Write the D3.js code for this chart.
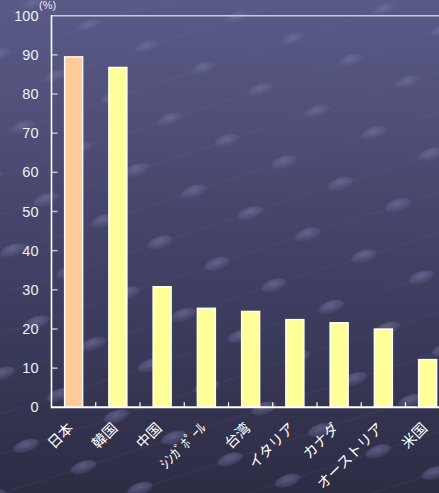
<!DOCTYPE html>
<html><head><meta charset="utf-8">
<script src="https://cdn.jsdelivr.net/npm/d3@7"></script>
<style>html,body{margin:0;padding:0;background:#3c3c5c;}svg{display:block;}</style>
</head><body>
<script>
const categories = ["日本","韓国","中国","ｼﾝｶﾞﾎﾟｰﾙ","台湾","イタリア","カナダ","オーストリア","米国"];
const values = [89.5, 86.8, 30.8, 25.3, 24.5, 22.4, 21.6, 20.0, 12.2];
const barColors = ["#ffcc99","#ffff99","#ffff99","#ffff99","#ffff99","#ffff99","#ffff99","#ffff99","#ffff99"];
const yTicks = [0,10,20,30,40,50,60,70,80,90,100];
const unitLabel = "(%)";

const W = 439, H = 493;
const svg = d3.select("body").append("svg").attr("width", W).attr("height", H);
const defs = svg.append("defs");
const bg = defs.append("linearGradient").attr("id","bg").attr("x1",0).attr("y1",0).attr("x2",0).attr("y2",1);
bg.append("stop").attr("offset","0%").attr("stop-color","#5a5a88");
bg.append("stop").attr("offset","55%").attr("stop-color","#404064");
bg.append("stop").attr("offset","100%").attr("stop-color","#2c2c44");
const eg = defs.append("radialGradient").attr("id","eg").attr("cx","50%").attr("cy","35%").attr("r","60%");
eg.append("stop").attr("offset","0%").attr("stop-color","#7a7aa8").attr("stop-opacity",0.6);
eg.append("stop").attr("offset","100%").attr("stop-color","#55557f").attr("stop-opacity",0.4);
const pat = defs.append("pattern").attr("id","dots").attr("patternUnits","userSpaceOnUse")
  .attr("width",95).attr("height",76).attr("patternTransform","rotate(-18) translate(10,0)");
pat.append("ellipse").attr("cx",20).attr("cy",14).attr("rx",13).attr("ry",6).attr("fill","url(#eg)");
pat.append("ellipse").attr("cx",67).attr("cy",52).attr("rx",13).attr("ry",6).attr("fill","url(#eg)");
pat.append("line").attr("x1",0).attr("y1",14).attr("x2",95).attr("y2",14).attr("stroke","#8080b0").attr("stroke-opacity",0.12);
pat.append("line").attr("x1",0).attr("y1",52).attr("x2",95).attr("y2",52).attr("stroke","#8080b0").attr("stroke-opacity",0.12);

svg.append("rect").attr("width",W).attr("height",H).attr("fill","url(#bg)");
svg.append("rect").attr("width",W).attr("height",H).attr("fill","url(#dots)");

const x0 = 51.5, yTop = 15.7, yBot = 407.3, step = 44.25;
const x = d3.scaleBand().domain(categories).range([x0, x0 + step*categories.length]).paddingInner(0.59).paddingOuter(0.295);
const y = d3.scaleLinear().domain([0,100]).range([yBot, yTop]);

// top border line
svg.append("line").attr("x1",x0).attr("x2",W).attr("y1",y(100)).attr("y2",y(100))
  .attr("stroke","#c8c8d8").attr("stroke-width",1.5);

// bars
svg.selectAll("rect.bar").data(categories).join("rect").attr("class","bar")
  .attr("x", d => x(d)).attr("width", x.bandwidth())
  .attr("y", (d,i) => y(values[i])).attr("height", (d,i) => yBot - y(values[i]))
  .attr("fill", (d,i) => barColors[i]).attr("stroke","#ffffff").attr("stroke-width",1.3);

// y axis
const yAxis = svg.append("g").attr("transform",`translate(${x0},0)`)
  .call(d3.axisLeft(y).tickValues(yTicks).tickSize(0).tickPadding(13));
yAxis.select(".domain").remove();
yAxis.selectAll("text").attr("fill","#f0f0f0").style("font-family","'Liberation Sans', Arial, sans-serif").style("font-size","14.5px");
svg.selectAll("line.ytick").data(yTicks.slice(1,-1)).join("line").attr("class","ytick")
  .attr("x1",x0).attr("x2",x0+6).attr("y1",d=>y(d)).attr("y2",d=>y(d))
  .attr("stroke","#c0c0d0").attr("stroke-width",1.5);

// x ticks at band boundaries (inward)
const bounds = categories.slice(1).map(c => x(c) - x.step()*x.paddingInner()/2 );
svg.selectAll("line.xtick").data(bounds).join("line").attr("class","xtick")
  .attr("x1",d=>d).attr("x2",d=>d).attr("y1",yBot).attr("y2",yBot-5)
  .attr("stroke","#ffffff").attr("stroke-width",1.2);

// axes lines
svg.append("line").attr("x1",x0).attr("x2",x0).attr("y1",y(100)-0.7).attr("y2",yBot+1).attr("stroke","#ffffff").attr("stroke-width",1.6);
svg.append("line").attr("x1",x0).attr("x2",W).attr("y1",yBot).attr("y2",yBot).attr("stroke","#ffffff").attr("stroke-width",2);

// x labels
svg.selectAll("text.xl").data(categories).join("text").attr("class","xl")
  .attr("transform", d => `translate(${x(d)+x.bandwidth()/2-3},${yBot+18}) rotate(-45)`)
  .attr("text-anchor","end").attr("dy","0.35em")
  .attr("fill","#ffffff").style("font-family","'Noto Sans CJK JP', sans-serif").style("font-size","14.5px")
  .text(d => d);

// unit label
svg.append("text").attr("x",39).attr("y",9).attr("fill","#e8e8f0")
  .style("font-family","'Liberation Sans', Arial, sans-serif").style("font-size","11px").text(unitLabel);
</script>
</body></html>
